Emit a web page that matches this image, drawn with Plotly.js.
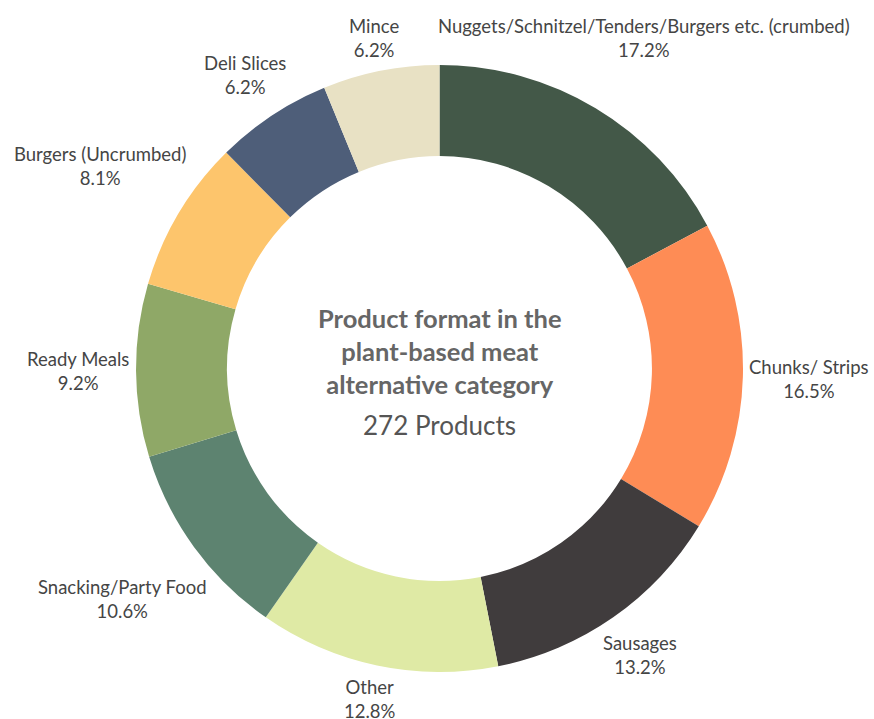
<!DOCTYPE html>
<html>
<head>
<meta charset="utf-8">
<script src="https://cdn.plot.ly/plotly-3.0.1.min.js"></script>
<style>html,body{margin:0;padding:0;background:#fff;}#chart{width:874px;height:719px;}</style>
</head>
<body>
<div id="chart"></div>
<script>
const categories = [
  "Nuggets/Schnitzel/Tenders/Burgers etc. (crumbed)",
  "Chunks/ Strips",
  "Sausages",
  "Other",
  "Snacking/Party Food",
  "Ready Meals",
  "Burgers (Uncrumbed)",
  "Deli Slices",
  "Mince"
];
const shares = [17.2, 16.5, 13.2, 12.8, 10.6, 9.2, 8.1, 6.2, 6.2];
const colors = ["#435848", "#fe8c55", "#403c3d", "#dfeaa5", "#5d8370", "#8fa867", "#fdc56c", "#4e5e79", "#e8e1c4"];
const centerTitle = "Product format in the<br>plant-based meat<br>alternative category";
const centerSub = "272 Products";

// layout geometry
const W = 874, H = 719;
const M = {l: 136, r: 131, t: 65, b: 47};
const PW = W - M.l - M.r, PH = H - M.t - M.b;
const CX = M.l + PW / 2, CY = M.t + PH / 2;
const RADIUS = Math.min(PW, PH) / 2;
const LABEL_FONT = 18.5, LINE_H = 26;
const FONT_FAMILY = "Lato, 'Open Sans', sans-serif";

// label placement derived from the data (mid-angle of each slice)
const ctx = document.createElement("canvas").getContext("2d");
ctx.font = LABEL_FONT + "px Lato";
const total = shares.reduce((a, b) => a + b, 0);
let cum = 0;
const labelAnns = categories.map((cat, i) => {
  const mid = (cum + shares[i] / 2) / total * 2 * Math.PI;
  cum += shares[i];
  const pct = shares[i].toFixed(1) + "%";
  const wText = Math.max(ctx.measureText(cat).width, ctx.measureText(pct).width);
  const hw = wText / 2, hh = LINE_H;
  const s = Math.sin(mid), c = Math.cos(mid);
  const d = RADIUS + 6 + hw * Math.abs(s) + hh * Math.abs(c) * 0.9;
  let px = CX + d * s, py = CY - d * c;
  const topLimit = hh + 12;
  if (py < topLimit) {
    py = topLimit;
    px = Math.min(Math.max(px, hw + 10), W - hw - 24);
  } else {
    px = Math.min(Math.max(px, hw + 2), W - hw - 2);
  }
  return {
    text: cat + "<br>" + pct,
    x: (px - M.l) / PW, y: (H - M.b - py) / PH,
    xref: "paper", yref: "paper", xanchor: "center", yanchor: "middle",
    showarrow: false, align: "center",
    font: {size: LABEL_FONT, color: "#454545", family: FONT_FAMILY}
  };
});

const trace = {
  type: "pie",
  labels: categories,
  values: shares,
  sort: false,
  direction: "clockwise",
  rotation: 0,
  hole: 0.70,
  marker: {colors: colors, line: {width: 0}},
  textinfo: "none",
  hoverinfo: "label+percent",
  showlegend: false
};

const layout = {
  width: W,
  height: H,
  margin: M,
  paper_bgcolor: "#ffffff",
  plot_bgcolor: "#ffffff",
  font: {family: FONT_FAMILY},
  annotations: labelAnns.concat([
    {text: "<b>" + centerTitle + "</b>", x: 0.5, y: (H - M.b - 351) / PH, xref: "paper", yref: "paper",
     showarrow: false, font: {size: 25.5, color: "#666666", family: FONT_FAMILY}, align: "center"},
    {text: centerSub, x: 0.5, y: (H - M.b - 425) / PH, xref: "paper", yref: "paper",
     showarrow: false, font: {size: 26, color: "#555555", family: FONT_FAMILY}, align: "center"}
  ])
};

Plotly.newPlot("chart", [trace], layout, {displayModeBar: false, staticPlot: true});
</script>
</body>
</html>
